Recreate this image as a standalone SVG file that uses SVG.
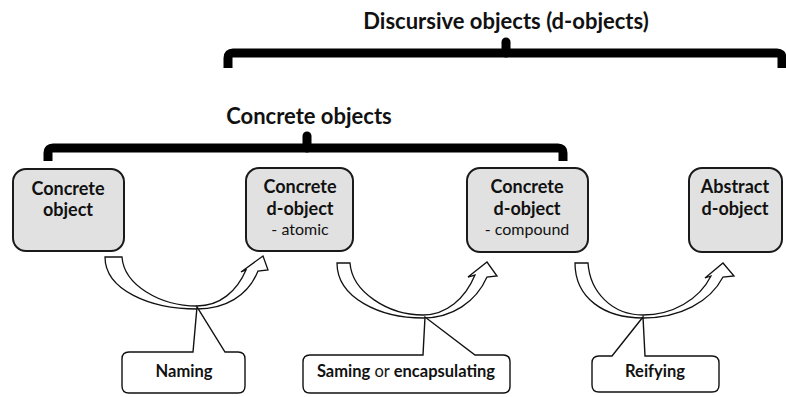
<svg xmlns="http://www.w3.org/2000/svg" width="786" height="397" viewBox="0 0 786 397">
<style>
.bg{fill:#ffffff}
.brace{fill:none;stroke:#000;stroke-width:9;stroke-linejoin:round}
.nub{fill:none;stroke:#000;stroke-width:9;stroke-linecap:round}
.box{fill:#e1e1e1;stroke:#1a1a1a;stroke-width:2}
.arrow{fill:#fff;stroke:#111;stroke-width:1.3;stroke-linejoin:miter}
.callout{fill:#fff;stroke:#111;stroke-width:1.4}
.t{font-family:Lato,"Open Sans","Liberation Sans",sans-serif;fill:#111;text-anchor:middle}
.b{font-weight:bold}
.h{font-size:22px}
.n{font-size:18px}
.s{font-size:16px;font-weight:normal}
.c{font-size:16.5px}
</style>
<rect class="bg" x="0" y="0" width="786" height="397"/>
<g id="brace-discursive">
<path class="brace" d="M228,68 L228,58 Q228,53 233,53 L777,53 Q782,53 782,58 L782,68"/>
<path class="nub" d="M506,53 L506,42"/>
<text class="t b h" x="506" y="29">Discursive objects (d-objects)</text>
</g>
<g id="brace-concrete">
<path class="brace" d="M48,161 L48,153 Q48,148 53,148 L558,148 Q563,148 563,153 L563,161"/>
<path class="nub" d="M307,148 L307,136"/>
<text class="t b h" x="309" y="124">Concrete objects</text>
</g>
<g id="node-concrete-object">
<rect class="box" x="13" y="169" width="111" height="82" rx="13"/>
<text class="t b n" x="68" y="195">Concrete</text>
<text class="t b n" x="68" y="216">object</text>
</g>
<g id="node-concrete-d-object-atomic">
<rect class="box" x="246" y="168" width="107" height="83" rx="13"/>
<text class="t b n" x="300" y="193">Concrete</text>
<text class="t b n" x="300" y="215">d-object</text>
<text class="t s" x="300" y="235">- atomic</text>
</g>
<g id="node-concrete-d-object-compound">
<rect class="box" x="467" y="168" width="121" height="84" rx="13"/>
<text class="t b n" x="527" y="193">Concrete</text>
<text class="t b n" x="527" y="215">d-object</text>
<text class="t s" x="527" y="235">- compound</text>
</g>
<g id="node-abstract-d-object">
<rect class="box" x="689" y="168" width="93" height="84" rx="13"/>
<text class="t b n" x="735" y="193">Abstract</text>
<text class="t b n" x="735" y="215">d-object</text>
</g>
<g id="connectors">
<path class="arrow" d="M105,257 L122,257 C124,285 160,306 197,306 C220,306 237,291 246,270 L241,272 L263,256 L268,270 L258,271 C248,296 225,309 197,309 C150,309 105,290 105,257 Z"/>
<path class="arrow" d="M337,263 L350,263 C352,292 388,315 423,315 C446,315 465,299 475,275 L468,277 L487,262 L497,276 L487,277 C476,302 452,318 423,318 C380,318 337,298 337,263 Z"/>
<path class="arrow" d="M575,263 L588,263 C590,292 612,315 643,315 C672,315 699,300 711,276 L705,278 L723,263 L734,276 L723,277 C710,302 680,318 643,318 C604,318 575,298 575,263 Z"/>
</g>
<g id="callout-naming">
<path class="callout" d="M129,352 L193,352 L197,307 L225,352 L238,352 Q245,352 245,359 L245,386 Q245,393 238,393 L129,393 Q122,393 122,386 L122,359 Q122,352 129,352 Z"/>
<text class="t b c" x="184" y="377">Naming</text>
</g>
<g id="callout-saming">
<path class="callout" d="M310,355 L423,355 L425,317 L475,355 L503,355 Q510,355 510,362 L510,386 Q510,393 503,393 L310,393 Q303,393 303,386 L303,362 Q303,355 310,355 Z"/>
<text class="t c" x="406" y="377"><tspan class="b">Saming</tspan> or <tspan class="b">encapsulating</tspan></text>
</g>
<g id="callout-reifying">
<path class="callout" d="M599,356 L612,356 L643,317 L645,356 L712,356 Q719,356 719,363 L719,385 Q719,392 712,392 L599,392 Q592,392 592,385 L592,363 Q592,356 599,356 Z"/>
<text class="t b c" x="655" y="377">Reifying</text>
</g>
</svg>
